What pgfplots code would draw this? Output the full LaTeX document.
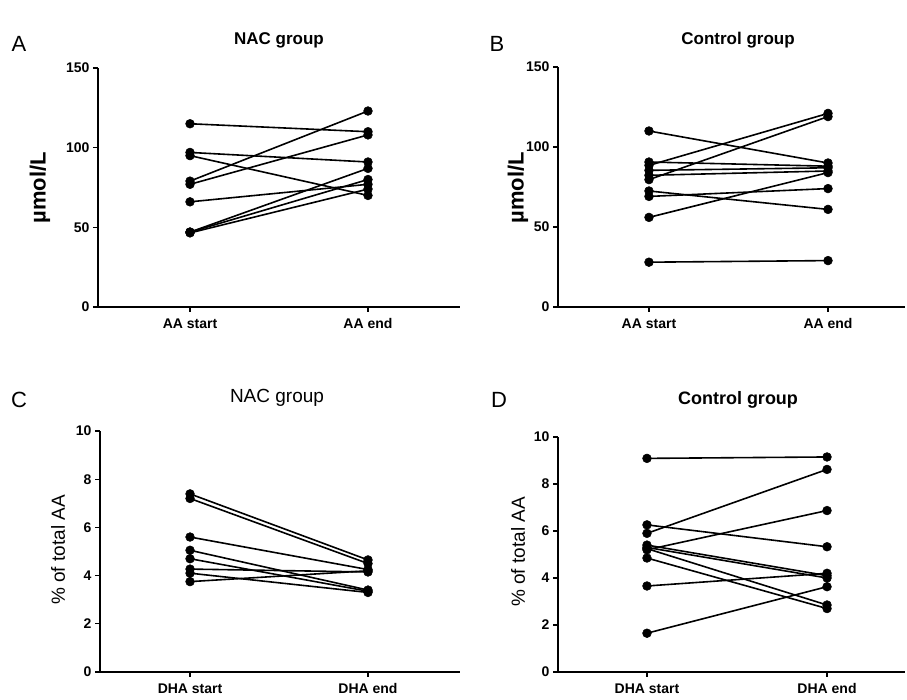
\documentclass[border=0pt]{standalone}
\usepackage{pgfplots}
\pgfplotsset{compat=1.18}
\usepackage{fontspec}
\setmainfont{Liberation Sans}
\begin{document}
\begin{tikzpicture}
\path[use as bounding box] (0pt,0pt) rectangle (907pt,700pt);
\pgfplotsset{
  pl/.style={black, solid, line width=1.6pt, mark=*, mark size=4.4pt, mark options={solid, fill=black, line width=0.5pt}},
  pp/.style={
    scale only axis, clip=false,
    axis x line*=bottom, axis y line*=left,
    axis line style={line width=1.4pt},
    every tick/.style={black, line width=1.3pt},
    tick align=outside, major tick length=5pt,
    xtick={0,1},
    /pgf/number format/assume math mode=true,
    tick label style={font=\bfseries\fontsize{14}{15}\selectfont},
    xticklabel style={yshift=-3pt},
  }
}
% Panel A
\begin{axis}[pp, at={(98pt,393pt)}, anchor=south west, width=362pt, height=239pt,
  xmin=-0.517, xmax=1.517, ymin=0, ymax=150, ytick={0,50,100,150},
  xticklabels={AA start, AA end}]
\addplot[pl] coordinates {(0,115) (1,110)};
\addplot[pl] coordinates {(0,97) (1,91)};
\addplot[pl] coordinates {(0,95) (1,70)};
\addplot[pl] coordinates {(0,79) (1,123)};
\addplot[pl] coordinates {(0,77) (1,108)};
\addplot[pl] coordinates {(0,66) (1,77)};
\addplot[pl] coordinates {(0,47) (1,87)};
\addplot[pl] coordinates {(0,47) (1,80)};
\addplot[pl] coordinates {(0,46.5) (1,74)};
\end{axis}
% Panel B
\begin{axis}[pp, at={(558pt,393pt)}, anchor=south west, width=347pt, height=240pt,
  xmin=-0.508, xmax=1.43, ymin=0, ymax=150, ytick={0,50,100,150},
  xticklabels={AA start, AA end}]
\addplot[pl] coordinates {(0,110) (1,90)};
\addplot[pl] coordinates {(0,90.6) (1,88)};
\addplot[pl] coordinates {(0,88.5) (1,121)};
\addplot[pl] coordinates {(0,85.4) (1,87)};
\addplot[pl] coordinates {(0,82.3) (1,85)};
\addplot[pl] coordinates {(0,79.6) (1,119)};
\addplot[pl] coordinates {(0,72.5) (1,61)};
\addplot[pl] coordinates {(0,69.1) (1,74)};
\addplot[pl] coordinates {(0,56) (1,84)};
\addplot[pl] coordinates {(0,28) (1,29)};
\end{axis}
% Panel C
\begin{axis}[pp, at={(100pt,28pt)}, anchor=south west, width=360pt, height=241pt,
  xmin=-0.506, xmax=1.517, ymin=0, ymax=10, ytick={0,2,4,6,8,10},
  xticklabels={DHA start, DHA end}]
\addplot[pl] coordinates {(0,7.39) (1,4.65)};
\addplot[pl] coordinates {(0,7.2) (1,4.5)};
\addplot[pl] coordinates {(0,5.6) (1,4.25)};
\addplot[pl] coordinates {(0,5.05) (1,3.4)};
\addplot[pl] coordinates {(0,4.7) (1,3.35)};
\addplot[pl] coordinates {(0,4.27) (1,4.15)};
\addplot[pl] coordinates {(0,4.1) (1,3.3)};
\addplot[pl] coordinates {(0,3.75) (1,4.2)};
\end{axis}
% Panel D
\begin{axis}[pp, at={(558pt,28pt)}, anchor=south west, width=347pt, height=235pt,
  xmin=-0.494, xmax=1.433, ymin=0, ymax=10, ytick={0,2,4,6,8,10},
  xticklabels={DHA start, DHA end}]
\addplot[pl] coordinates {(0,9.09) (1,9.15)};
\addplot[pl] coordinates {(0,5.9) (1,8.62)};
\addplot[pl] coordinates {(0,5.2) (1,6.87)};
\addplot[pl] coordinates {(0,6.26) (1,5.33)};
\addplot[pl] coordinates {(0,3.66) (1,4.2)};
\addplot[pl] coordinates {(0,1.65) (1,3.63)};
\addplot[pl] coordinates {(0,5.4) (1,4.1)};
\addplot[pl] coordinates {(0,5.3) (1,4.0)};
\addplot[pl] coordinates {(0,5.25) (1,2.85)};
\addplot[pl] coordinates {(0,4.85) (1,2.7)};
\end{axis}
% panel letters
\node[font=\fontsize{22}{22}\selectfont] at (19pt,656pt) {A};
\node[font=\fontsize{22}{22}\selectfont] at (497pt,656pt) {B};
\node[font=\fontsize{22}{22}\selectfont] at (19pt,300pt) {C};
\node[font=\fontsize{22}{22}\selectfont] at (499pt,300pt) {D};
% titles
\node[font=\bfseries\fontsize{17}{17}\selectfont] at (279pt,660pt) {NAC group};
\node[font=\bfseries\fontsize{17}{17}\selectfont] at (738pt,660pt) {Control group};
\node[font=\fontsize{19}{19}\selectfont] at (277pt,302pt) {NAC group};
\node[font=\bfseries\fontsize{18}{18}\selectfont] at (738pt,300pt) {Control group};
% y labels
\node[rotate=90, font=\bfseries\fontsize{22}{22}\selectfont] at (40pt,512pt) {µmol/L};
\node[rotate=90, font=\bfseries\fontsize{22}{22}\selectfont] at (518pt,512pt) {µmol/L};
\node[rotate=90, font=\fontsize{19}{19}\selectfont] at (58pt,150pt) {\% of total AA};
\node[rotate=90, font=\fontsize{19}{19}\selectfont] at (518pt,148pt) {\% of total AA};
\end{tikzpicture}
\end{document}
